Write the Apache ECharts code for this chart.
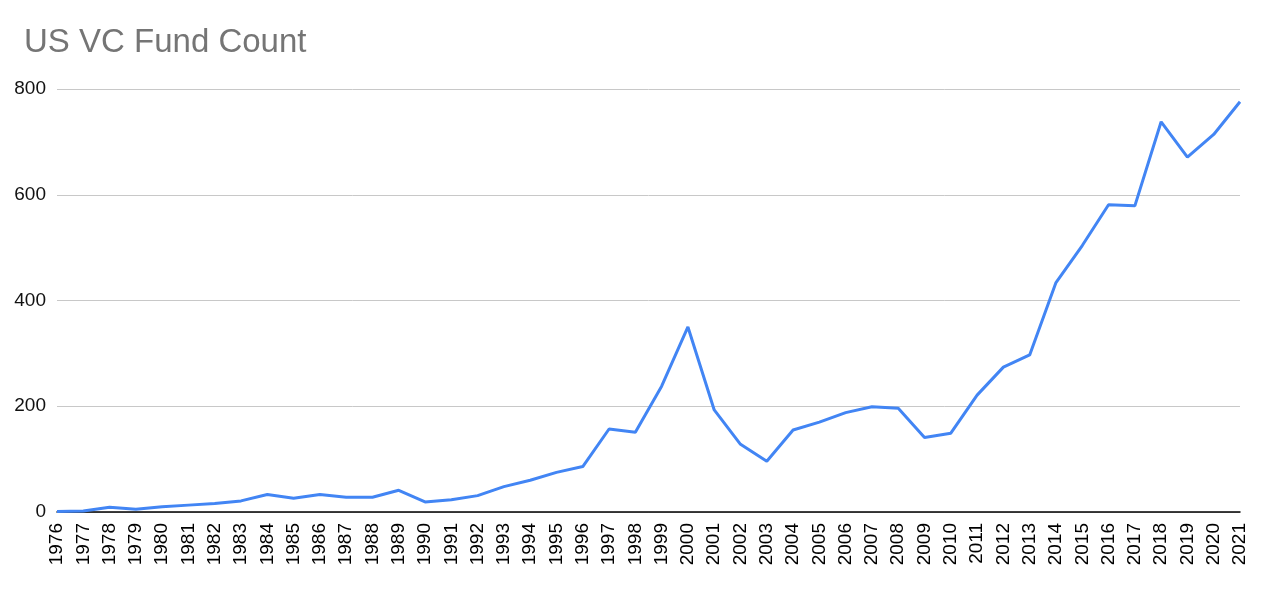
<!DOCTYPE html>
<html>
<head>
<meta charset="utf-8">
<title>US VC Fund Count</title>
<script src="https://cdn.jsdelivr.net/npm/echarts@6/dist/echarts.min.js"></script>
<style>
  html, body { margin: 0; padding: 0; background: #fff; }
  #chart { width: 1280px; height: 608px; }
</style>
</head>
<body>
<div id="chart"></div>
<script>
// values
const years = [
  '1976', '1977', '1978', '1979', '1980', '1981', '1982', '1983', '1984', '1985',
  '1986', '1987', '1988', '1989', '1990', '1991', '1992', '1993', '1994', '1995',
  '1996', '1997', '1998', '1999', '2000', '2001', '2002', '2003', '2004', '2005',
  '2006', '2007', '2008', '2009', '2010', '2011', '2012', '2013', '2014', '2015',
  '2016', '2017', '2018', '2019', '2020', '2021'
];
const fundCount = [
  1, 2, 9, 5, 10, 13, 16, 21, 33, 26,
  33, 28, 28, 41, 19, 23, 31, 48, 60, 75,
  86, 157, 151, 238, 350, 193, 128, 96, 155, 170,
  188, 199, 196, 141, 149, 221, 274, 297, 434, 504,
  581, 579, 738, 671, 714, 776
];
const yTicks = { min: 0, max: 800, interval: 200 };

const font = '"Liberation Sans", Arial, sans-serif';
const chart = echarts.init(document.getElementById('chart'));

chart.setOption({
  animation: false,
  title: {
    text: 'US VC Fund Count',
    left: 24,
    top: 26,
    padding: 0,
    textStyle: { fontFamily: font, fontSize: 33, fontWeight: 'normal', color: '#757575' }
  },
  grid: { left: 57, right: 40, top: 89, bottom: 96, containLabel: false },
  xAxis: {
    type: 'category',
    data: years,
    boundaryGap: false,
    axisLine: { lineStyle: { color: '#000', width: 1.5 } },
    axisTick: { show: false },
    axisLabel: {
      rotate: 90,
      interval: 0,
      margin: 11,
      color: '#000',
      fontFamily: font,
      fontSize: 19
    },
    splitLine: { show: false }
  },
  yAxis: {
    type: 'value',
    min: yTicks.min,
    max: yTicks.max,
    interval: yTicks.interval,
    axisLine: { show: false },
    axisTick: { show: false },
    axisLabel: { margin: 11, color: '#111', fontFamily: font, fontSize: 19 },
    splitLine: { lineStyle: { color: '#c8c8c8', width: 1 } }
  },
  series: [{
    type: 'line',
    data: fundCount,
    showSymbol: false,
    symbol: 'none',
    lineStyle: { color: '#4285F4', width: 3 },
    z: 3
  }]
});

window.addEventListener('resize', () => chart.resize());
</script>
</body>
</html>
